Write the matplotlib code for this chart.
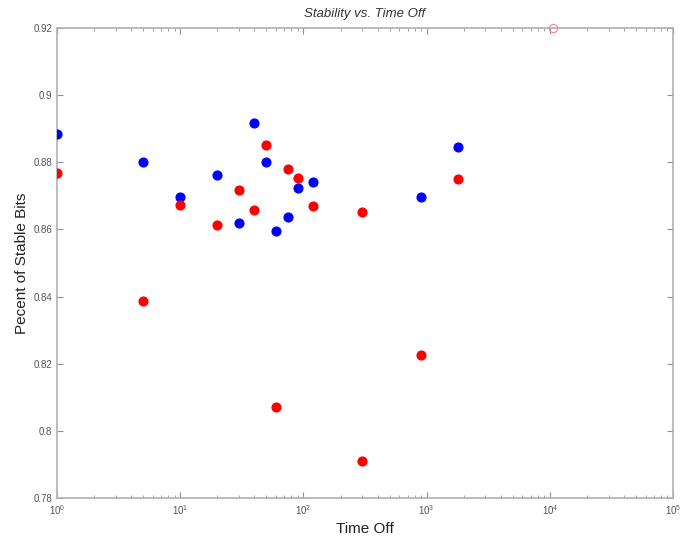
import matplotlib.pyplot as plt
from matplotlib.ticker import LogLocator, FixedLocator

# data
blue_x = [1, 5, 10, 20, 30, 40, 50, 60, 75, 90, 120, 900, 1800]
blue_y = [0.8883, 0.8802, 0.8697, 0.8763, 0.8619, 0.8918, 0.8800, 0.8596,
          0.8636, 0.8724, 0.8740, 0.8697, 0.8846]

red_x = [1, 5, 10, 20, 30, 40, 50, 60, 75, 90, 120, 300, 300, 900, 1800]
red_y = [0.8769, 0.8387, 0.8674, 0.8613, 0.8718, 0.8658, 0.8851, 0.8071,
         0.8780, 0.8753, 0.8669, 0.8652, 0.7911, 0.8226, 0.8751]

# faint open marker sitting on the top edge
open_x = [10700]
open_y = [0.92]

y_ticks = [0.78, 0.8, 0.82, 0.84, 0.86, 0.88, 0.9, 0.92]
y_labels = ["0.78", "0.8", "0.82", "0.84", "0.86", "0.88", "0.9", "0.92"]

plt.rcParams['font.family'] = ['Liberation Sans', 'DejaVu Sans']

fig = plt.figure(figsize=(6.81, 5.37), dpi=100)
ax = fig.add_axes([0.0837, 0.0726, 0.9046, 0.8752])

ax.plot(blue_x, blue_y, 'o', color='#0000ff', ms=6.3, mec='#0000ff', zorder=3)
ax.plot(red_x, red_y, 'o', color='#ff0000', ms=6.3, mec='#ff0000', zorder=3)
ax.plot(open_x, open_y, 'o', mfc='none', mec='#ff8080', ms=6, mew=0.8,
        clip_on=False, zorder=3)

ax.set_xscale('log')
ax.set_xlim(1, 1e5)
ax.set_ylim(0.78, 0.92)
ax.xaxis.set_major_locator(LogLocator(base=10, numticks=10))
ax.xaxis.set_minor_locator(LogLocator(base=10, subs=range(2, 10), numticks=20))
ax.yaxis.set_major_locator(FixedLocator(y_ticks))
ax.set_yticklabels(y_labels)

for s in ax.spines.values():
    s.set_color('#b0b0b0')
    s.set_linewidth(1.2)

ax.tick_params(which='both', direction='in', top=True, right=True,
               colors='#909090', labelcolor='#555555', labelsize=7)
ax.tick_params(which='major', length=4, width=0.8)
ax.tick_params(which='minor', length=2, width=0.6)

ax.set_title('Stability vs. Time Off', style='italic', fontsize=9.5,
             color='#333333', pad=8)
ax.set_xlabel('Time Off', fontsize=11, color='#222222', labelpad=4)
ax.set_ylabel('Pecent of Stable Bits', fontsize=11, color='#222222', labelpad=3)

fig.savefig('out.png', dpi=100)
